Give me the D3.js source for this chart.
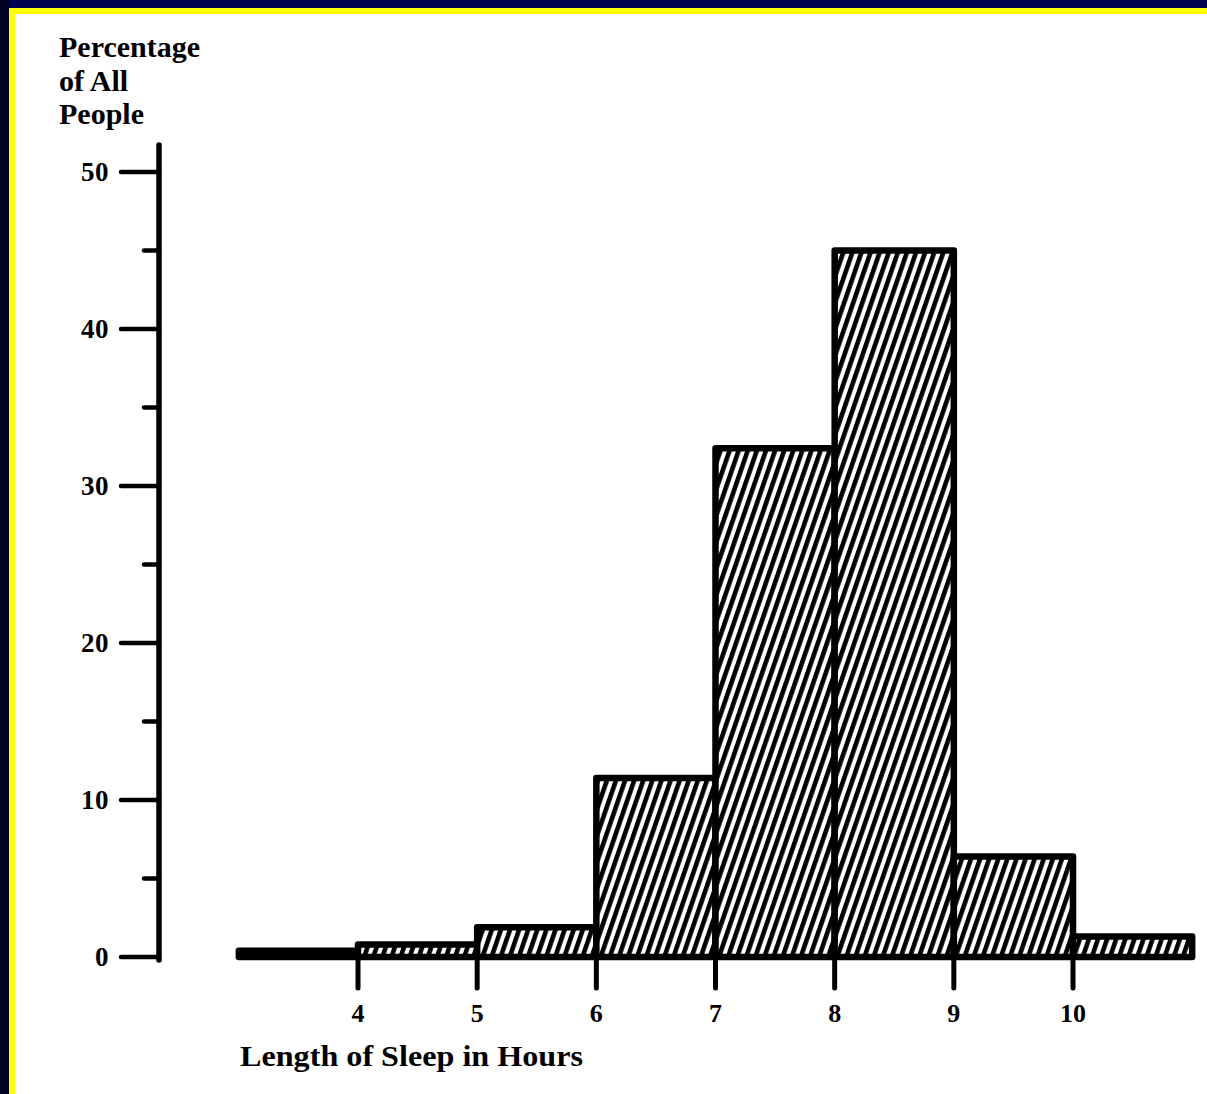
<!DOCTYPE html>
<html>
<head>
<meta charset="utf-8">
<script src="https://cdn.jsdelivr.net/npm/d3@7"></script>
<style>
  html, body { margin: 0; padding: 0; background: #fff; }
  svg { display: block; }
</style>
</head>
<body>
<script>
// ---- data ----
const binStarts = [3, 4, 5, 6, 7, 8, 9, 10];
const binEnds   = [4, 5, 6, 7, 8, 9, 10, 11];
const percentages = [0.4, 0.8, 1.9, 11.4, 32.4, 45.0, 6.4, 1.3];
const xTickValues = [4, 5, 6, 7, 8, 9, 10];
const yMajorTicks = [0, 10, 20, 30, 40, 50];
const yMinorTicks = [5, 15, 25, 35, 45];
const yTitleLines = ["Percentage", "of All", "People"];
const xTitle = "Length of Sleep in Hours";

const W = 1207, H = 1094;
const font = "'Liberation Serif', 'DejaVu Serif', serif";

const svg = d3.select("body").append("svg")
  .attr("width", W).attr("height", H);

// background & frame
svg.append("rect").attr("width", W).attr("height", H).attr("fill", "#fff");
svg.append("rect").attr("x", 0).attr("y", 0).attr("width", W).attr("height", 8).attr("fill", "#000050");
svg.append("rect").attr("x", 0).attr("y", 0).attr("width", 9).attr("height", H).attr("fill", "#000022");
svg.append("rect").attr("x", 9).attr("y", 8).attr("width", W - 9).attr("height", 6).attr("fill", "#ffff00");
svg.append("rect").attr("x", 9).attr("y", 8).attr("width", 6).attr("height", H - 8).attr("fill", "#ffff00");

// hatch pattern
const defs = svg.append("defs");
const pat = defs.append("pattern")
  .attr("id", "hatch")
  .attr("patternUnits", "userSpaceOnUse")
  .attr("width", 8.6).attr("height", 10)
  .attr("patternTransform", "rotate(19)");
pat.append("rect").attr("width", 8.6).attr("height", 10).attr("fill", "#fff");
pat.append("rect").attr("x", 0).attr("y", 0).attr("width", 4.6).attr("height", 10).attr("fill", "#000");

// scales
const x = d3.scaleLinear().domain([4, 10]).range([358, 1073]);
const y = d3.scaleLinear().domain([0, 50]).range([957, 172]);

// bars
const bars = binStarts.map((s, i) => ({ x0: s, x1: binEnds[i], v: percentages[i] }));
svg.append("g").selectAll("rect").data(bars).join("rect")
  .attr("x", d => x(d.x0))
  .attr("y", d => y(d.v))
  .attr("width", d => x(d.x1) - x(d.x0))
  .attr("height", d => y(0) - y(d.v))
  .attr("fill", "url(#hatch)")
  .attr("stroke", "#000")
  .attr("stroke-width", 6.5)
  .attr("stroke-linejoin", "round");

// y axis line
svg.append("line")
  .attr("x1", 159).attr("x2", 159)
  .attr("y1", 145).attr("y2", y(0) + 3)
  .attr("stroke", "#000").attr("stroke-width", 5.5).attr("stroke-linecap", "round");

// y major ticks
svg.append("g").selectAll("line").data(yMajorTicks).join("line")
  .attr("x1", 121).attr("x2", 159)
  .attr("y1", d => y(d)).attr("y2", d => y(d))
  .attr("stroke", "#000").attr("stroke-width", 4.5).attr("stroke-linecap", "round");
// y minor ticks
svg.append("g").selectAll("line").data(yMinorTicks).join("line")
  .attr("x1", 144).attr("x2", 159)
  .attr("y1", d => y(d)).attr("y2", d => y(d))
  .attr("stroke", "#000").attr("stroke-width", 4.5).attr("stroke-linecap", "round");
// y labels
svg.append("g").selectAll("text").data(yMajorTicks).join("text")
  .attr("x", 109)
  .attr("y", d => y(d) + 9)
  .attr("text-anchor", "end")
  .attr("font-family", font).attr("font-weight", "bold").attr("font-size", 27)
  .attr("letter-spacing", 0.5)
  .text(d => d);

// y title
svg.append("g").selectAll("text").data(yTitleLines).join("text")
  .attr("x", 59)
  .attr("y", (d, i) => 57 + i * 33.5)
  .attr("font-family", font).attr("font-weight", "bold").attr("font-size", 30)
  .text(d => d);

// x ticks
svg.append("g").selectAll("line").data(xTickValues).join("line")
  .attr("x1", d => x(d)).attr("x2", d => x(d))
  .attr("y1", y(0)).attr("y2", 988)
  .attr("stroke", "#000").attr("stroke-width", 5).attr("stroke-linecap", "round");
// x labels
svg.append("g").selectAll("text").data(xTickValues).join("text")
  .attr("x", d => x(d))
  .attr("y", 1022)
  .attr("text-anchor", "middle")
  .attr("font-family", font).attr("font-weight", "bold").attr("font-size", 26)
  .text(d => d);

// x title
svg.append("text")
  .attr("x", 240).attr("y", 1066)
  .attr("font-family", font).attr("font-weight", "bold").attr("font-size", 29)
  .attr("textLength", 343).attr("lengthAdjust", "spacingAndGlyphs")
  .text(xTitle);
</script>
</body>
</html>
